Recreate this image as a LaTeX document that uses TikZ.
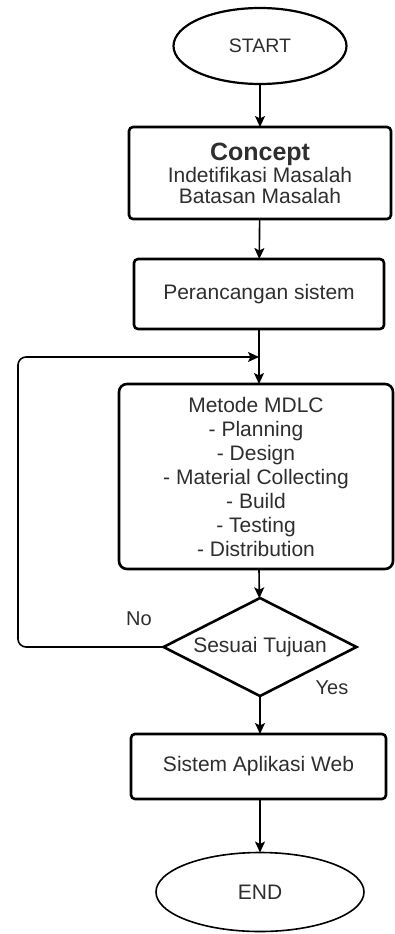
\documentclass[tikz,border=0pt]{standalone}
\usepackage{fontspec}
\setmainfont{Liberation Sans}
\usetikzlibrary{shapes.geometric,arrows.meta}
\definecolor{txt}{HTML}{2E2E2E}
\begin{document}
\begin{tikzpicture}[x=1pt,y=-1pt,
  every node/.style={text=txt, font=\fontsize{21}{24}\selectfont, inner sep=0pt, outer sep=0pt},
  term/.style={ellipse, draw=black, line width=2.2pt},
  procbox/.style={rectangle, rounded corners=4pt, draw=black, line width=2.6pt, align=center},
  decision/.style={diamond, aspect=2, draw=black, line width=2.6pt},
  conn/.style={draw=black, line width=1.6pt, -{Stealth[length=11pt,width=10pt,inset=2.5pt]}},
  lbl/.style={font=\fontsize{20}{22}\selectfont}]
\useasboundingbox (0,0) rectangle (395,934);
\node[term, minimum width=173pt, minimum height=76pt, font=\fontsize{19.5}{22}\selectfont] (start) at (260,46) {START};
\node[procbox, minimum width=262pt, minimum height=92pt] (concept) at (260,173)
  {{\bfseries\fontsize{25}{26}\selectfont Concept}\\[-2pt] Indetifikasi Masalah\\[-3pt] Batasan Masalah};
\node[procbox, minimum width=250pt, minimum height=70pt] (peran) at (259,294) {Perancangan sistem};
\node[procbox, rounded corners=8pt, minimum width=274pt, minimum height=185pt] (mdlc) at (256,476.5)
  {Metode MDLC\\- Planning\\- Design\\- Material Collecting\\- Build\\- Testing\\- Distribution};
\node[decision, minimum width=193pt, minimum height=98pt] (dec) at (260,647) {Sesuai Tujuan};
\node[procbox, minimum width=255pt, minimum height=65pt] (sistem) at (258.5,766.5) {Sistem Aplikasi Web};
\node[term, line width=1.6pt, minimum width=208pt, minimum height=79pt] (end) at (260,892) {END};
\coordinate (lc) at (18,357);
\coordinate (loopin) at (259,357);
\draw[conn] (start) -- (concept);
\draw[conn] (concept) -- (peran);
\draw[conn] (peran.south -| loopin) -- (mdlc.north -| loopin);
\draw[conn] (mdlc.south -| loopin) -- (dec);
\draw[conn] (dec) -- (sistem.north -| dec);
\draw[conn] (sistem.south -| end) -- (end);
\draw[conn, rounded corners=8pt] (dec.west) -| (lc) -- (loopin);
\node[lbl] (no) at (139,619) {No};
\node[lbl] (yes) at (332,688) {Yes};
\end{tikzpicture}
\end{document}
